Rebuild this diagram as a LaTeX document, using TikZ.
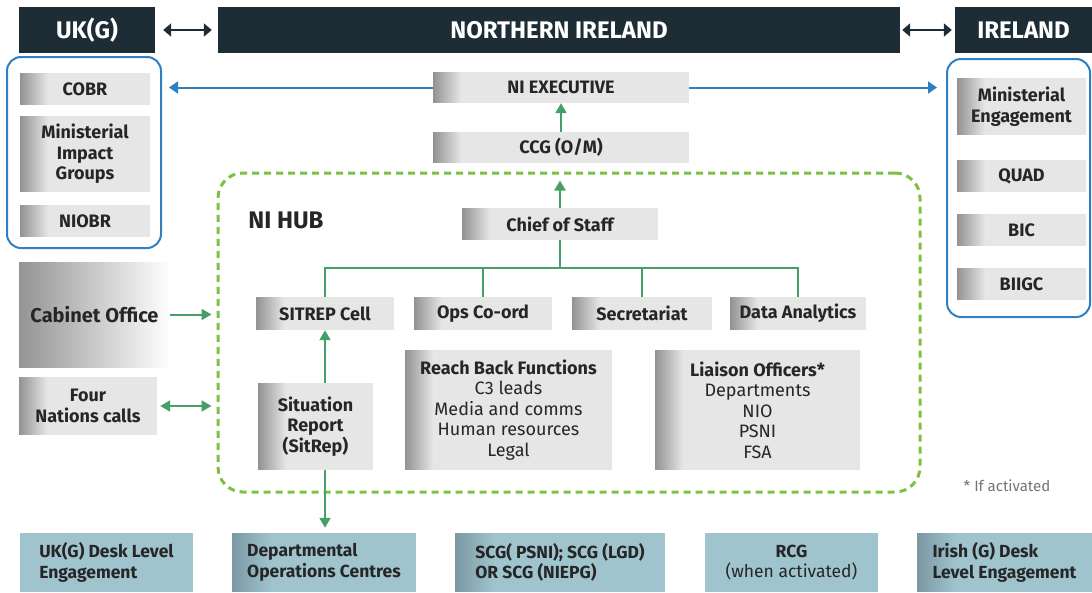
\documentclass[tikz,border=0pt]{standalone}
\usepackage{fontspec}
\setmainfont{Fira Sans}
\usetikzlibrary{arrows.meta}
\definecolor{hdr}{HTML}{1E2C35}
\definecolor{bl}{HTML}{2F7FC1}
\definecolor{gr}{HTML}{45A068}
\definecolor{dgr}{HTML}{7CC142}
\definecolor{boxg}{HTML}{E6E6E6}
\definecolor{edgeg}{HTML}{929292}
\definecolor{bot}{HTML}{A0C4CE}
\definecolor{botd}{HTML}{7B98A3}
\definecolor{txt}{HTML}{262626}
\newcommand\bx[7][]{\node[#1, minimum width={#5pt-#3pt}, minimum height={#6pt-#4pt}] (#2) at ({(#3+#5)/2},{(#4+#6)/2}) {#7};}
\tikzset{
  leftfade/.style n args={3}{path picture={%
    \foreach \i in {0,...,#3}{%
      \pgfmathtruncatemacro\p{100-100*\i/#3}%
      \fill[#1!\p!#2] ([xshift=\i pt]path picture bounding box.south west) rectangle ([xshift={\i pt+1.3pt}]path picture bounding box.north west);}}},
  hdrbox/.style={fill=hdr, text=white, font=\fontsize{24}{27}\selectfont\bfseries, inner sep=0pt},
  gbox/.style={fill=boxg, text=txt, font=\fontsize{18}{20.5}\selectfont\bfseries, align=center, inner sep=0pt, leftfade={edgeg}{boxg}{28}},
  cabbox/.style={left color=black!42, right color=white, text=txt, font=\fontsize{20}{23}\selectfont\bfseries, inner sep=0pt},
  botbox/.style={fill=bot, text=txt, font=\fontsize{17.5}{20.5}\selectfont\bfseries, align=left, inner sep=0pt},
  botgrad/.style={botbox, leftfade={botd}{bot}{40}},
  bluebox/.style={draw=bl, line width=2pt, rounded corners=14pt, inner sep=0pt},
  hubbox/.style={draw=dgr, line width=3pt, dash pattern=on 7pt off 5pt, rounded corners=25pt, inner sep=0pt},
  hdrar/.style={draw=hdr, line width=2pt, {Triangle[width=13pt,length=8pt]}-{Triangle[width=13pt,length=8pt]}},
  blar/.style={draw=bl, line width=2pt, -{Triangle[width=12pt,length=9pt]}},
  grar/.style={draw=gr, line width=2pt, -{Triangle[width=11pt,length=10pt]}},
  grdar/.style={draw=gr, line width=2pt, {Triangle[width=11pt,length=10pt]}-{Triangle[width=11pt,length=10pt]}},
  grline/.style={draw=gr, line width=1.6pt},
}
\begin{document}
\begin{tikzpicture}[x=1pt,y=-1pt]
\useasboundingbox (0,0) rectangle (1092,592);
% headers
\bx[hdrbox]{ukg}{19}{7}{155}{53}{UK(G)}
\bx[hdrbox]{ni}{218}{7}{900}{53}{NORTHERN IRELAND}
\bx[hdrbox]{ire}{955}{7}{1092}{53}{IRELAND}
\draw[hdrar] ([xshift=8pt]ukg.east) -- ([xshift=-6pt]ni.west);
\draw[hdrar] ([xshift=2pt]ni.east) -- ([xshift=-3pt]ire.west);
% blue groups
\bx[bluebox]{ukbox}{7}{57}{161}{248}{}
\bx[bluebox]{irbox}{947}{59}{1090}{317}{}
\bx[gbox]{cobr}{20}{73}{150}{105}{COBR}
\bx[gbox]{mig}{20}{116}{150}{192}{Ministerial\\Impact\\Groups}
\bx[gbox]{niobr}{20}{205}{150}{237}{NIOBR}
\bx[gbox]{mineng}{957}{78}{1086}{135}{Ministerial\\Engagement}
\bx[gbox]{quad}{957}{160}{1086}{192}{QUAD}
\bx[gbox]{bic}{957}{214}{1086}{246}{BIC}
\bx[gbox]{biigc}{957}{268}{1086}{300}{BIIGC}
% NI executive
\bx[gbox]{niexec}{433}{72}{689}{103}{NI EXECUTIVE}
\bx[gbox]{ccg}{433}{132}{689}{163}{CCG (O/M)}
\draw[blar] (niexec.west) -- ([xshift=7pt]niexec.west -| ukbox.east);
\draw[blar] (niexec.east) -- ([xshift=-9pt]niexec.east -| irbox.west);
\draw[grar] (ccg.north) -- (niexec.south);
% hub
\bx[hubbox]{hub}{218}{173}{920}{492}{}
\node[text=txt, font=\fontsize{24}{28}\selectfont\bfseries] (hublabel) at (286,220) {NI HUB};
\bx[gbox]{chief}{462}{208}{658}{240}{Chief of Staff}
\draw[grar] (chief.north) -- ([yshift=-9pt]chief.north |- hub.north);
\bx[gbox]{sitcell}{256}{297}{394}{330}{SITREP Cell}
\bx[gbox]{ops}{414}{297}{552}{330}{Ops Co-ord}
\bx[gbox]{sec}{572}{297}{712}{330}{Secretariat}
\bx[gbox]{data}{730}{297}{866}{330}{Data Analytics}
\coordinate (bus) at (560,268);
\draw[grline] (chief.south) -- (bus);
\draw[grline] (sitcell.north) -- (sitcell.north |- bus) -- (data.north |- bus) -- (data.north);
\draw[grline] (ops.north) -- (ops.north |- bus);
\draw[grline] (sec.north) -- (sec.north |- bus);
\bx[gbox]{sitrep}{258}{383}{373}{470}{Situation\\Report\\(SitRep)}
\bx[gbox]{reach}{405}{350}{612}{470}{Reach Back Functions\\\mdseries C3 leads\\\mdseries Media and comms\\\mdseries Human resources\\\mdseries Legal}
\bx[gbox]{liaison}{655}{350}{860}{470}{Liaison Officers*\\\mdseries Departments\\\mdseries NIO\\\mdseries PSNI\\\mdseries FSA}
\draw[grar] (sitcell.south |- sitrep.north) -- (sitcell.south);
% left side
\bx[cabbox]{cab}{19}{262}{170}{367}{Cabinet Office}
\bx[gbox]{four}{19}{377}{157}{435}{Four\\Nations calls}
\draw[grar] (cab.east) -- ([xshift=-5pt]cab.east -| hub.west);
\draw[grdar] ([xshift=3pt]four.east) -- ([xshift=-5pt]four.east -| hub.west);
\node[text=black!55, font=\fontsize{15}{18}\selectfont] (note) at (1007,486) {* If activated};
% bottom row
\bx[botbox]{ukdesk}{20}{533}{193}{592}{UK(G) Desk Level\\Engagement}
\bx[botgrad]{dept}{232}{533}{416}{592}{Departmental\\Operations Centres}
\bx[botgrad]{scg}{455}{533}{665}{592}{SCG( PSNI); SCG (LGD)\\OR SCG (NIEPG)}
\bx[botbox, align=center]{rcg}{705}{533}{878}{592}{RCG\\\mdseries (when activated)}
\bx[botgrad]{irdesk}{917}{533}{1092}{592}{Irish (G) Desk\\Level Engagement}
\draw[grar, shorten >=5pt] (sitcell.south |- sitrep.south) -- (sitcell.south |- dept.north);
\end{tikzpicture}
\end{document}
